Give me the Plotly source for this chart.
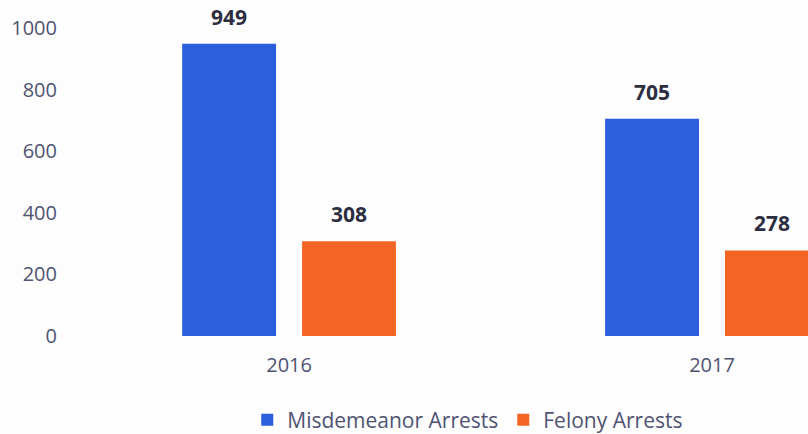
import plotly.graph_objects as go

years = ["2016", "2017"]
misdemeanor = [949, 705]
felony = [308, 278]
y_ticks = [0, 200, 400, 600, 800, 1000]

BLUE = "#2b5fdd"
ORANGE = "#f26524"
TEXT = "#4f5373"
LABEL = "#2c2e3f"
FONT = "Open Sans, Lato, sans-serif"

fig = go.Figure()
fig.add_trace(go.Bar(name="Misdemeanor Arrests", x=years, y=misdemeanor,
                     marker=dict(color=BLUE, line=dict(width=0))))
fig.add_trace(go.Bar(name="Felony Arrests", x=years, y=felony,
                     marker=dict(color=ORANGE, line=dict(width=0))))

# value labels above each bar (x given as category index)
for series, shift in ((misdemeanor, -60), (felony, 60)):
    for i, v in enumerate(series):
        fig.add_annotation(x=i, y=v, xref="x", yref="y", text=f"<b>{v}</b>",
                           showarrow=False, xshift=shift, yshift=11, yanchor="bottom",
                           font=dict(family=FONT, size=21, color=LABEL))

fig.update_layout(
    width=808, height=434,
    margin=dict(l=70, r=0, t=20, b=94, autoexpand=False),
    paper_bgcolor="#fdfdfd", plot_bgcolor="#fdfdfd",
    barmode="group", bargap=0.433, bargroupgap=0.217,
    font=dict(family=FONT, size=20, color=TEXT),
    showlegend=True,
    legend=dict(orientation="h", xref="container", x=0.306, xanchor="left",
                yref="container", y=0.032, yanchor="middle",
                font=dict(family=FONT, size=21, color=TEXT),
                traceorder="normal", bgcolor="rgba(0,0,0,0)"),
    xaxis=dict(type="category", range=[-0.518, 1.227], showgrid=False, zeroline=False,
               showline=False, ticks="", ticklabelstandoff=11),
    yaxis=dict(range=[-13, 1026], tickvals=y_ticks, showgrid=False, zeroline=False,
               showline=False, ticks="", ticklabelstandoff=12),
)

fig.write_html("out.html")
